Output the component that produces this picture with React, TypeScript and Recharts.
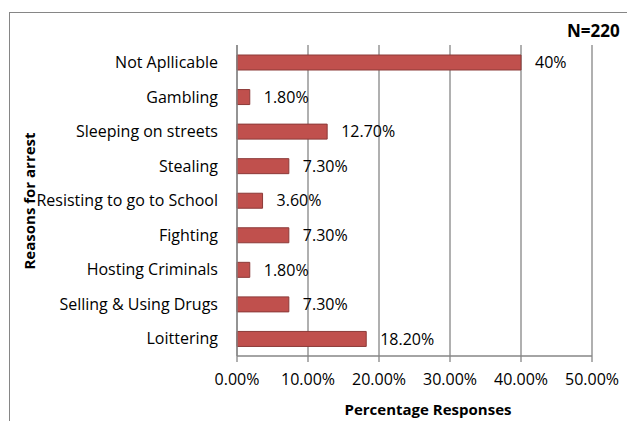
import { BarChart, Bar, XAxis, YAxis, CartesianGrid, LabelList } from "recharts";

const reasons = [
  "Not Apllicable",
  "Gambling",
  "Sleeping on streets",
  "Stealing",
  "Resisting to go to School",
  "Fighting",
  "Hosting Criminals",
  "Selling & Using Drugs",
  "Loittering",
];
const percentages = [40, 1.8, 12.7, 7.3, 3.6, 7.3, 1.8, 7.3, 18.2];
const valueLabels = ["40%", "1.80%", "12.70%", "7.30%", "3.60%", "7.30%", "1.80%", "7.30%", "18.20%"];
const xTicks = [0, 10, 20, 30, 40, 50];

const data = reasons.map((reason, i) => ({
  reason,
  value: percentages[i],
  label: valueLabels[i],
}));

const font = "'Open Sans', sans-serif";
const grey = "#868686";

export default function App() {
  return (
    <div
      style={{
        position: "absolute",
        left: 0,
        top: 0,
        width: 627,
        height: 421,
        overflow: "hidden",
        background: "#fff",
        fontFamily: font,
      }}
    >
      <div
        style={{
          position: "absolute",
          left: 9,
          top: 12,
          width: 700,
          height: 500,
          border: `1.5px solid ${grey}`,
        }}
      />
      <div
        style={{
          position: "absolute",
          left: 567,
          top: 19,
          fontSize: 17,
          fontWeight: "bold",
          whiteSpace: "nowrap",
          color: "#000",
        }}
      >
        N=220
      </div>
      <BarChart
        width={627}
        height={421}
        data={data}
        layout="vertical"
        margin={{ top: 45, right: 35, bottom: 0, left: 10 }}
        style={{ position: "absolute", left: 0, top: 0 }}
      >
        <CartesianGrid horizontal={false} stroke={grey} strokeWidth={1.3} />
        <XAxis
          type="number"
          domain={[0, 50]}
          ticks={xTicks}
          tickFormatter={(v: number) => `${v.toFixed(2)}%`}
          height={65}
          stroke={grey}
          strokeWidth={1.3}
          tickSize={6}
          tickMargin={12}
          tick={{ fill: "#000", fontSize: 16, fontFamily: font }}
          label={(props: any) => (
            <text
              x={428}
              y={415}
              textAnchor="middle"
              fontSize={15}
              fontWeight="bold"
              fontFamily={font}
              fill="#000"
            >
              Percentage Responses
            </text>
          )}
        />
        <YAxis
          type="category"
          dataKey="reason"
          width={227}
          stroke={grey}
          strokeWidth={1.3}
          tickLine={false}
          tickSize={0}
          tickMargin={19}
          interval={0}
          tick={{ fill: "#000", fontSize: 16, fontFamily: font }}
          label={(props: any) => (
            <text
              x={35}
              y={201}
              transform="rotate(-90 35 201)"
              textAnchor="middle"
              fontSize={15}
              fontWeight="bold"
              fontFamily={font}
              fill="#000"
            >
              Reasons for arrest
            </text>
          )}
        />
        <Bar
          dataKey="value"
          fill="#C0504D"
          stroke="#8C3A38"
          strokeWidth={1}
          barSize={15}
          isAnimationActive={false}
        >
          <LabelList
            dataKey="label"
            position="right"
            offset={14}
            fill="#000"
            fontSize={16}
            fontFamily={font}
          />
        </Bar>
      </BarChart>
    </div>
  );
}
